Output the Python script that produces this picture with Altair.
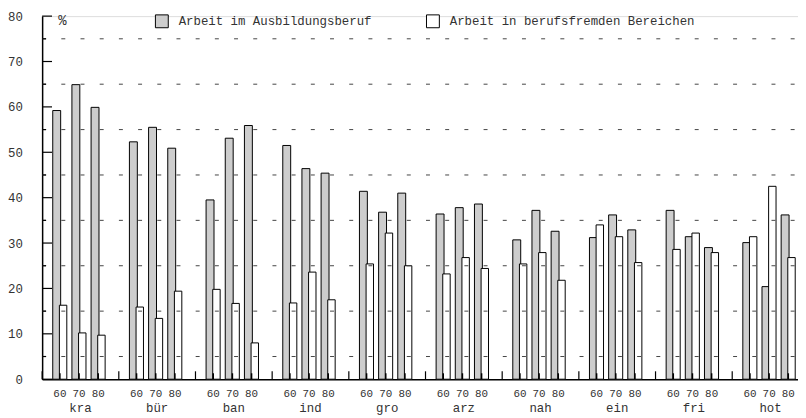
import altair as alt
import pandas as pd

categories = ["kra", "bür", "ban", "ind", "gro", "arz", "nah", "ein", "fri", "hot"]
years = ["60", "70", "80"]
series_names = ["Arbeit im Ausbildungsberuf", "Arbeit in berufsfremden Bereichen"]
series_codes = ["a", "b"]

ausbildung = [
    [59.2, 64.9, 59.9],
    [52.3, 55.5, 50.9],
    [39.5, 53.1, 55.9],
    [51.5, 46.4, 45.4],
    [41.4, 36.8, 41.0],
    [36.4, 37.8, 38.6],
    [30.7, 37.2, 32.6],
    [31.2, 36.2, 32.9],
    [37.2, 31.4, 29.0],
    [30.1, 20.4, 36.2],
]
berufsfremd = [
    [16.3, 10.2, 9.7],
    [15.9, 13.4, 19.4],
    [19.8, 16.7, 8.0],
    [16.8, 23.6, 17.5],
    [25.4, 32.2, 25.0],
    [23.2, 26.8, 24.4],
    [25.4, 27.9, 21.8],
    [34.0, 31.4, 25.7],
    [28.6, 32.2, 27.9],
    [31.4, 42.5, 26.8],
]

y_major = [0, 10, 20, 30, 40, 50, 60, 70, 80]
y_minor = [5, 15, 25, 35, 45, 55, 65, 75]
grid_values = [5, 15, 25, 35, 45, 55, 65, 75]

# slot order inside each category: pair of bars per year, empty slots between pairs
slot_domain = ["pad0", "60-a", "60-b", "gap1", "70-a", "70-b", "gap2", "80-a", "80-b", "pad1"]

rows = []
for ci, c in enumerate(categories):
    for yi, yr in enumerate(years):
        for si, (sname, vals) in enumerate(zip(series_names, [ausbildung, berufsfremd])):
            rows.append(dict(cat=c, year=yr, series=sname,
                             slot=f"{yr}-{series_codes[si]}", value=vals[ci][yi]))
df = pd.DataFrame(rows)
df_cy = pd.DataFrame([dict(cat=c, year=yr) for c in categories for yr in years])
df_cat = pd.DataFrame({"cat": categories})
df_grid = pd.DataFrame({"v": grid_values})
df_major = pd.DataFrame({"v": y_major})
df_minor = pd.DataFrame({"v": y_minor})

W, H, XR = 764, 367, 775
FONT = "Liberation Mono"
TXT = "#333333"

xscale = alt.Scale(domain=categories, range=[0, XR], paddingInner=0, paddingOuter=0)
slot_scale = alt.Scale(domain=slot_domain, paddingInner=0, paddingOuter=1, align=0.39)
year_scale = alt.Scale(domain=years, paddingInner=0, paddingOuter=0.5, align=0.427)
yscale = alt.Scale(domain=[0, 80], nice=False, zero=True)

xaxis = alt.Axis(title=None, ticks=False, tickSize=0, labelPadding=23, labelAngle=0,
                 labelFont=FONT, labelFontSize=12.5, labelColor=TXT,
                 domainColor="black", domainWidth=1.5, grid=False)
yaxis = alt.Axis(values=y_major, ticks=False, tickSize=0, labelPadding=20,
                 labelFont=FONT, labelFontSize=12.5, labelColor=TXT,
                 domainColor="black", domainWidth=1.5, grid=False,
                 title="%", titleAngle=0, titleX=20, titleY=4, titleFont=FONT,
                 titleFontSize=14, titleFontWeight="normal", titleColor=TXT,
                 titleBaseline="middle", titleAlign="center")

X = alt.X("cat:N", scale=xscale, axis=xaxis)
XS = alt.XOffset("slot:N", scale=slot_scale)
XY = alt.XOffset("year:N", scale=year_scale)
Y = alt.Y("value:Q", scale=yscale, axis=yaxis, stack=None)

color = alt.Color(
    "series:N",
    scale=alt.Scale(domain=series_names, range=["#cdcdcd", "#ffffff"]),
    legend=alt.Legend(title=None, orient="none", legendX=114, legendY=-2,
                      direction="horizontal", symbolType="square", symbolSize=169,
                      symbolStrokeColor="black", symbolStrokeWidth=1,
                      labelFont=FONT, labelFontSize=12.5, labelColor=TXT,
                      labelOffset=10, columnPadding=52, labelLimit=400),
)

base = alt.Chart(df)
gray = base.transform_filter(alt.datum.series == series_names[0]).mark_bar(
    width=8, stroke="black", strokeWidth=1
).encode(x=X, xOffset=XS, y=Y, color=color)
white = base.transform_filter(alt.datum.series == series_names[1]).mark_bar(
    width=7.5, stroke="black", strokeWidth=1
).encode(x=X, xOffset=XS, y=Y, color=color)
bars = alt.layer(gray, white)

grid = alt.Chart(df_grid).mark_rule(color="#444444", strokeWidth=1, strokeDash=[4, 15.4]).encode(
    y=alt.Y("v:Q", scale=yscale, axis=yaxis), x=alt.value(0), x2=alt.value(XR)
)
major = alt.Chart(df_major).mark_rule(color="black", strokeWidth=1.2).encode(
    y=alt.Y("v:Q", scale=yscale, axis=yaxis), x=alt.value(0), x2=alt.value(10)
)
minor = alt.Chart(df_minor).mark_rule(color="black", strokeWidth=1.2).encode(
    y=alt.Y("v:Q", scale=yscale, axis=yaxis), x=alt.value(0), x2=alt.value(4)
)
bounds = alt.Chart(df_cat).mark_rule(color="black", strokeWidth=1.2).encode(
    x=alt.X("cat:N", scale=xscale, axis=xaxis, bandPosition=0),
    y=alt.value(H), y2=alt.value(H - 8)
)
yticks = alt.Chart(df_cy).mark_rule(color="black", strokeWidth=1.5).encode(
    x=X, xOffset=XY, y=alt.value(H), y2=alt.value(H - 6)
)
ylabels = alt.Chart(df_cy).mark_text(font=FONT, fontSize=11, color=TXT, baseline="middle").encode(
    x=X, xOffset=XY, y=alt.value(H + 15), text="year:N"
)
marks_by_year = alt.layer(yticks, ylabels)

chart = alt.layer(bars, grid, major, minor, bounds, marks_by_year).resolve_scale(
    xOffset="independent"
).properties(
    width=W, height=H,
    autosize=alt.AutoSizeParams(type="none"),
    padding={"left": 34.5, "top": 6, "right": 0, "bottom": 37},
).configure_view(stroke=None).configure(background="white")

chart.save("out.html", embed_options={"renderer": "svg", "actions": False})
